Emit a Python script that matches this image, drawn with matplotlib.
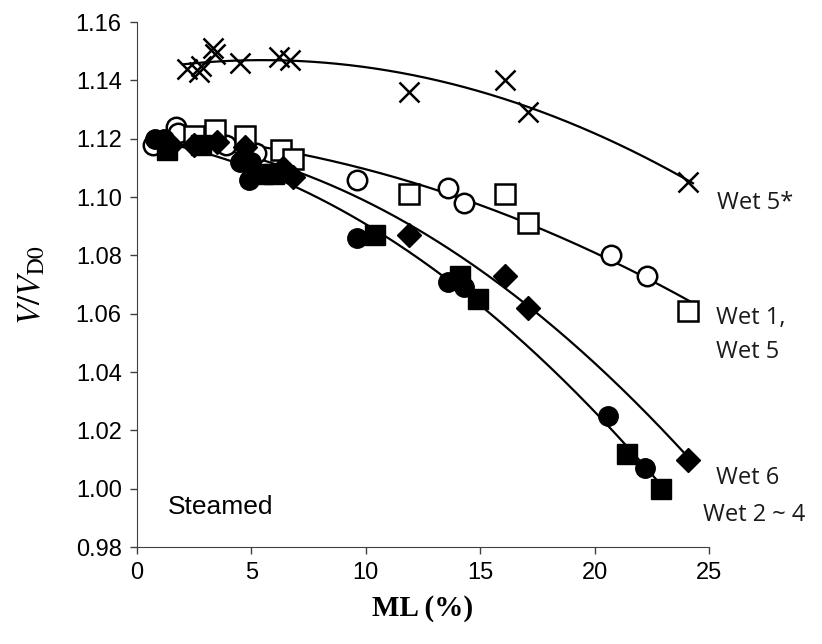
import numpy as np
import matplotlib
matplotlib.use("Agg")
import matplotlib.pyplot as plt

plt.rcParams['font.family'] = ['Liberation Sans', 'DejaVu Sans']
plt.rcParams['mathtext.fontset'] = 'stix'

# Wet 5* (crosses)
x_w5s = [2.2, 2.7, 2.8, 3.3, 3.4, 4.5, 6.2, 6.7, 11.9, 16.1, 17.1, 24.1]
y_w5s = [1.144, 1.143, 1.145, 1.151, 1.149, 1.146, 1.148, 1.147, 1.136, 1.140, 1.129, 1.105]

# Wet 1 (open circles)
x_w1 = [0.7, 1.7, 1.8, 3.9, 5.2, 9.6, 13.6, 14.3, 20.7, 22.3]
y_w1 = [1.118, 1.124, 1.122, 1.118, 1.115, 1.106, 1.103, 1.098, 1.080, 1.073]

# Wet 5 (open squares)
x_w5 = [2.5, 3.4, 4.7, 6.3, 6.8, 11.9, 16.1, 17.1, 24.1]
y_w5 = [1.121, 1.123, 1.121, 1.116, 1.113, 1.101, 1.101, 1.091, 1.061]

# Wet 2~4 (filled circles and filled squares)
x_c = [0.8, 1.2, 4.5, 4.9, 5.0, 9.6, 13.6, 14.3, 20.6, 22.2]
y_c = [1.120, 1.120, 1.112, 1.106, 1.112, 1.086, 1.071, 1.069, 1.025, 1.007]
x_s = [1.3, 2.8, 5.5, 6.0, 10.4, 14.1, 14.9, 21.4, 22.9]
y_s = [1.116, 1.118, 1.108, 1.108, 1.087, 1.073, 1.065, 1.012, 1.000]

# Wet 6 (filled diamonds)
x_w6 = [1.5, 2.5, 3.5, 4.7, 6.4, 6.8, 11.9, 16.1, 17.1, 24.1]
y_w6 = [1.118, 1.118, 1.119, 1.117, 1.110, 1.107, 1.087, 1.073, 1.062, 1.010]

fig = plt.figure(figsize=(8.22, 6.44), dpi=100)
ax = fig.add_axes([0.1667, 0.1506, 0.6958, 0.8152])


def trend(xs, ys, x0, x1):
    p = np.polyfit(xs, ys, 2)
    xx = np.linspace(x0, x1, 200)
    ax.plot(xx, np.polyval(p, xx), color='black', lw=1.6, zorder=1)


trend(x_w5s, y_w5s, 2.0, 24.3)
trend(x_w1 + x_w5, y_w1 + y_w5, 0.6, 24.4)
trend(x_c + x_s, y_c + y_s, 0.7, 23.3)
trend(x_w6, y_w6, 1.0, 24.2)

ax.plot(x_w5s, y_w5s, 'x', color='black', ms=15, mew=1.8, zorder=3)
ax.plot(x_w1, y_w1, 'o', mfc='white', mec='black', ms=14, mew=1.8, zorder=3)
ax.plot(x_w5, y_w5, 's', mfc='white', mec='black', ms=14, mew=1.8, zorder=3)
ax.plot(x_c, y_c, 'o', color='black', ms=14, zorder=4)
ax.plot(x_s, y_s, 's', color='black', ms=14, zorder=4)
ax.plot(x_w6, y_w6, 'D', color='black', ms=12, zorder=4)

ax.set_xlim(0, 25)
ax.set_ylim(0.98, 1.16)
ax.set_xticks(np.arange(0, 26, 5))
ax.set_yticks(np.arange(0.98, 1.161, 0.02))
ax.yaxis.set_major_formatter(matplotlib.ticker.FormatStrFormatter('%.2f'))
ax.tick_params(direction='out', labelsize=17, length=5, width=1, colors='#404040',
               labelcolor='black', pad=6)
ax.spines['top'].set_visible(False)
ax.spines['right'].set_visible(False)
for s in ['left', 'bottom']:
    ax.spines[s].set_color('#404040')

ax.set_xlabel('ML (%)', family='Liberation Serif', fontweight='bold', fontsize=21, labelpad=8)
ax.set_ylabel(r'$\mathit{V}/\mathit{V}_{\mathrm{D0}}$', fontsize=24, labelpad=20)

lab = dict(fontsize=17, family=['Open Sans', 'DejaVu Sans'], color='#1a1a1a', clip_on=False)
ax.text(25.35, 1.098, 'Wet 5*', va='center', **lab)
ax.text(25.3, 1.0585, 'Wet 1,', va='center', **lab)
ax.text(25.3, 1.047, 'Wet 5', va='center', **lab)
ax.text(25.3, 1.0036, 'Wet 6', va='center', **lab)
ax.text(24.75, 0.991, 'Wet 2 ~ 4', va='center', **lab)
ax.text(1.35, 0.9936, 'Steamed', fontsize=19, va='center')

fig.savefig('out.png', dpi=100)
